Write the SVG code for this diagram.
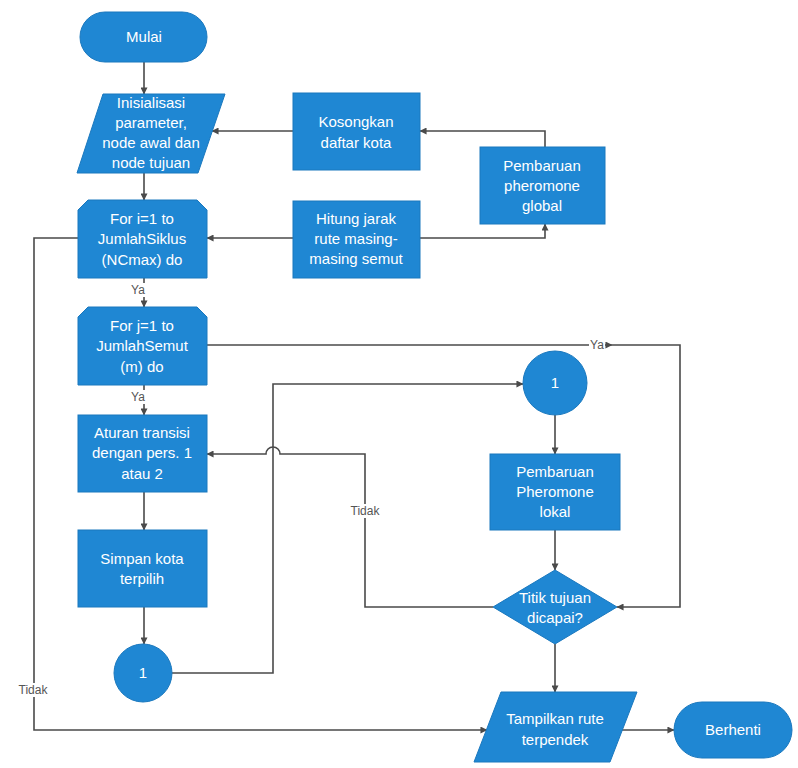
<svg xmlns="http://www.w3.org/2000/svg" width="798" height="768" viewBox="0 0 798 768">
  <defs>
    <marker id="arrow" viewBox="0 0 8 8" refX="7.5" refY="4" markerWidth="7" markerHeight="7" markerUnits="userSpaceOnUse" orient="auto">
      <path d="M0,0 L8,4 L0,8 Z" fill="#4a4a4a"/>
    </marker>
    <style>
      .shape { fill: #1f87d3; stroke: #1a78be; stroke-width: 1; }
      .txt { font-family: "Liberation Sans", Arial, sans-serif; font-size: 15px; fill: #ffffff; text-anchor: middle; }
      .lbl { font-family: "Liberation Sans", Arial, sans-serif; font-size: 12px; fill: #555555; text-anchor: middle; }
      .edge { fill: none; stroke: #4a4a4a; stroke-width: 1.6; }
      .arr { marker-end: url(#arrow); }
    </style>
  </defs>
  <rect width="798" height="768" fill="#ffffff"/>

  <!-- connectors -->
  <g id="connectors">
    <path class="edge arr" d="M144,62 V94"/>
    <path class="edge arr" d="M144,173 V200"/>
    <path class="edge arr" d="M144,278 V307"/>
    <path class="edge arr" d="M144,385 V415"/>
    <path class="edge arr" d="M144,492 V530"/>
    <path class="edge arr" d="M144,607 V644"/>
    <path class="edge arr" d="M172,673 H273 V384 H523"/>
    <path class="edge arr" d="M555,415 V454"/>
    <path class="edge arr" d="M555,530 V570"/>
    <path class="edge arr" d="M555,644 V692"/>
    <path class="edge arr" d="M622,730 H674"/>
    <path class="edge arr" d="M78,238 H34 V730 H487"/>
    <path class="edge arr" d="M493,607 H365 V454 H280 A7,7 0 0 0 266,454 H207"/>
    <path class="edge arr" d="M207,345 H612"/>
    <path class="edge arr" d="M612,345 H680 V607 H617"/>
    <path class="edge arr" d="M293,238 H207"/>
    <path class="edge arr" d="M420,238 H545 V224"/>
    <path class="edge arr" d="M545,147 V131 H420"/>
    <path class="edge arr" d="M293,131 H212"/>
    <!-- branch labels -->
    <rect x="130" y="283" width="16" height="14" fill="#ffffff"/>
    <text class="lbl" x="138" y="294">Ya</text>
    <rect x="130" y="390" width="16" height="14" fill="#ffffff"/>
    <text class="lbl" x="138" y="401">Ya</text>
    <rect x="589" y="338" width="16" height="14" fill="#ffffff"/>
    <text class="lbl" x="597" y="349">Ya</text>
    <rect x="348" y="504" width="34" height="14" fill="#ffffff"/>
    <text class="lbl" x="365" y="515">Tidak</text>
    <rect x="16" y="683" width="34" height="14" fill="#ffffff"/>
    <text class="lbl" x="33" y="694">Tidak</text>
  </g>

  <g id="mulai">
    <rect class="shape" x="80" y="12" width="127" height="50" rx="25"/>
    <text class="txt" x="144" y="42">Mulai</text>
  </g>

  <g id="inisialisasi">
    <polygon class="shape" points="103,94 225,94 198,173 77,173"/>
    <text class="txt" x="151" y="108">Inisialisasi</text>
    <text class="txt" x="151" y="128">parameter,</text>
    <text class="txt" x="151" y="148">node awal dan</text>
    <text class="txt" x="151" y="168">node tujuan</text>
  </g>

  <g id="kosongkan">
    <rect class="shape" x="293" y="93" width="127" height="77"/>
    <text class="txt" x="356" y="127">Kosongkan</text>
    <text class="txt" x="356" y="148">daftar kota</text>
  </g>

  <g id="pembaruan-global">
    <rect class="shape" x="480" y="147" width="125" height="77"/>
    <text class="txt" x="542" y="171">Pembaruan</text>
    <text class="txt" x="542" y="191">pheromone</text>
    <text class="txt" x="542" y="211">global</text>
  </g>

  <g id="hitung">
    <rect class="shape" x="293" y="201" width="127" height="77"/>
    <text class="txt" x="356" y="224">Hitung jarak</text>
    <text class="txt" x="356" y="244">rute masing-</text>
    <text class="txt" x="356" y="264">masing semut</text>
  </g>

  <g id="for-i">
    <path class="shape" d="M78,278 V210 L88,200 H197 L207,210 V278 Z"/>
    <text class="txt" x="142" y="224">For i=1 to</text>
    <text class="txt" x="142" y="244">JumlahSiklus</text>
    <text class="txt" x="142" y="265">(NCmax) do</text>
  </g>

  <g id="for-j">
    <path class="shape" d="M78,385 V317 L88,307 H197 L207,317 V385 Z"/>
    <text class="txt" x="142" y="331">For j=1 to</text>
    <text class="txt" x="142" y="351">JumlahSemut</text>
    <text class="txt" x="142" y="372">(m) do</text>
  </g>

  <g id="aturan">
    <rect class="shape" x="78" y="415" width="129" height="77"/>
    <text class="txt" x="142" y="438">Aturan transisi</text>
    <text class="txt" x="142" y="458">dengan pers. 1</text>
    <text class="txt" x="142" y="479">atau 2</text>
  </g>

  <g id="simpan">
    <rect class="shape" x="78" y="530" width="129" height="77"/>
    <text class="txt" x="142" y="564">Simpan kota</text>
    <text class="txt" x="142" y="584">terpilih</text>
  </g>

  <g id="konektor-bawah">
    <circle class="shape" cx="143" cy="673" r="29"/>
    <text class="txt" x="143" y="678">1</text>
  </g>

  <g id="konektor-atas">
    <circle class="shape" cx="555" cy="383" r="32"/>
    <text class="txt" x="555" y="388">1</text>
  </g>

  <g id="pembaruan-lokal">
    <rect class="shape" x="490" y="454" width="130" height="76"/>
    <text class="txt" x="555" y="477">Pembaruan</text>
    <text class="txt" x="555" y="497">Pheromone</text>
    <text class="txt" x="555" y="517">lokal</text>
  </g>

  <g id="titik-tujuan">
    <polygon class="shape" points="555,570 617,607 555,644 493,607"/>
    <text class="txt" x="555" y="603">Titik tujuan</text>
    <text class="txt" x="555" y="623">dicapai?</text>
  </g>

  <g id="tampilkan">
    <polygon class="shape" points="501,692 637,692 610,762 474,762"/>
    <text class="txt" x="555" y="724">Tampilkan rute</text>
    <text class="txt" x="555" y="745">terpendek</text>
  </g>

  <g id="berhenti">
    <rect class="shape" x="674" y="702" width="118" height="56" rx="28"/>
    <text class="txt" x="733" y="735">Berhenti</text>
  </g>
</svg>
